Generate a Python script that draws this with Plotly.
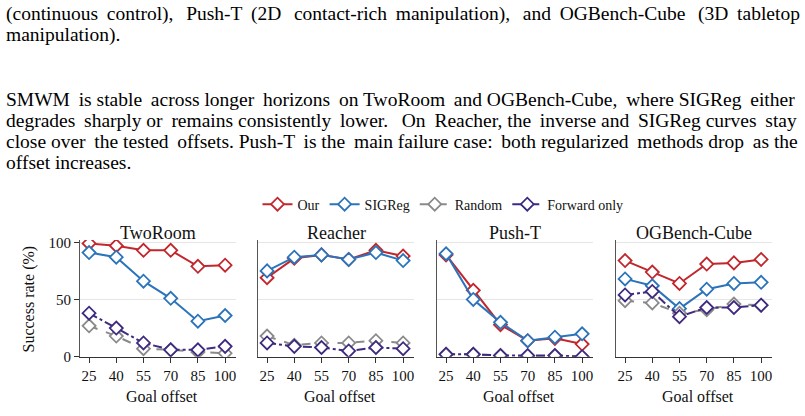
import plotly.graph_objects as go

W, H = 805, 416
FONT = "Liberation Serif"

offsets = [25, 40, 55, 70, 85, 100]
panels = ["TwoRoom", "Reacher", "Push-T", "OGBench-Cube"]
methods = ["Our", "SIGReg", "Random", "Forward only"]

our = {
    "TwoRoom": [99, 97, 93, 93, 79, 80],
    "Reacher": [69, 86, 89, 85, 93, 88],
    "Push-T": [89, 58, 28, 14, 16, 11],
    "OGBench-Cube": [84, 74, 64, 81, 82, 85],
}
sigreg = {
    "TwoRoom": [91, 87, 66, 51, 31, 36],
    "Reacher": [75, 87, 89, 85, 91, 84],
    "Push-T": [90, 50, 30, 14, 17, 20],
    "OGBench-Cube": [68, 62, 42, 59, 64, 65],
}
random_ = {
    "TwoRoom": [27, 18, 7, 6, 4, 3],
    "Reacher": [18, 10, 12, 12, 14, 12],
    "Push-T": [2, 2, 1, 0, 1, 0],
    "OGBench-Cube": [49, 47, 38, 41, 46, 45],
}
forward = {
    "TwoRoom": [38, 25, 12, 6, 6, 9],
    "Reacher": [12, 9, 8, 5, 8, 7],
    "Push-T": [2, 2, 1, 1, 1, 0],
    "OGBench-Cube": [54, 57, 35, 43, 43, 45],
}
series = [our, sigreg, random_, forward]
colors = ["#c1272d", "#2b74bb", "#8a8a8a", "#3f2a80"]
dashes = ["solid", "solid", "dash", "dashdot"]

para1 = [
    "(continuous control), Push-T (2D contact-rich manipulation), and OGBench-Cube (3D tabletop",
    "manipulation).",
]
para2 = [
    "SMWM is stable across longer horizons on TwoRoom and OGBench-Cube, where SIGReg either",
    "degrades sharply or remains consistently lower.  On Reacher, the inverse and SIGReg curves stay",
    "close over the tested offsets. Push-T is the main failure case: both regularized methods drop as the",
    "offset increases.",
]
# extra thin spaces used to imitate the justified paragraph lines
para1_extra = [13, 0]
para2_extra = [7, 8, 7, 0]


def justify(line, n_extra):
    words = line.split(" ")
    gaps = len(words) - 1
    if n_extra <= 0 or gaps <= 0:
        return line
    out = words[0]
    done = 0
    for g in range(1, gaps + 1):
        want = round(n_extra * g / gaps)
        k = want - done
        done = want
        out += " " + "\u2009" * k + words[g]
    return out


# pixel layout
px_dom = [(80, 236), (258, 414), (437, 593), (616, 772)]
y_top, y_bot = 242.6, 363


def xd(p):
    return p / W


def yd(p):
    return 1 - p / H


fig = go.Figure()
for i, pn in enumerate(panels):
    ax = "" if i == 0 else str(i + 1)
    for j, m in enumerate(methods):
        fig.add_trace(go.Scatter(
            x=offsets, y=series[j][pn], mode="lines+markers", name=m,
            legendgroup=m, showlegend=(i == 0),
            xaxis="x" + ax, yaxis="y" + ax,
            line=dict(color=colors[j], width=2, dash=dashes[j]),
            marker=dict(symbol="diamond", size=10, color="white",
                        line=dict(color=colors[j], width=1.8)),
        ))
    d0, d1 = px_dom[i]
    fig.layout["xaxis" + ax] = dict(
        domain=[xd(d0), xd(d1)], range=[20, 106], tickvals=offsets,
        ticks="outside", ticklen=5, tickcolor="#333", showline=True,
        linecolor="#333", linewidth=1, showgrid=False, zeroline=False,
        tickfont=dict(family=FONT, size=15, color="#111"),
        anchor="y" + ax, fixedrange=True,
    )
    fig.layout["yaxis" + ax] = dict(
        domain=[yd(y_bot), yd(y_top)], range=[0, 102], tickvals=[0, 50, 100],
        showticklabels=(i == 0), ticks="outside" if i == 0 else "",
        ticklen=5, tickcolor="#333", showline=True, linecolor="#555",
        linewidth=1, showgrid=True, gridcolor="#e6e6e6", gridwidth=1,
        zeroline=False, tickfont=dict(family=FONT, size=15, color="#111"),
        anchor="x" + ax, fixedrange=True,
    )
    fig.add_annotation(text=pn, x=xd((d0 + d1) / 2), y=yd(235), xref="paper",
                       yref="paper", showarrow=False, xanchor="center",
                       yanchor="middle", font=dict(family=FONT, size=18, color="#111"))
    fig.add_annotation(text="Goal offset", x=xd((d0 + d1) / 2 + 4), y=yd(404),
                       xref="paper", yref="paper", showarrow=False,
                       xanchor="center", yanchor="middle",
                       font=dict(family=FONT, size=16, color="#111"))

fig.add_annotation(text="Success rate (%)", x=xd(28), y=yd(304), xref="paper",
                   yref="paper", showarrow=False, textangle=-90,
                   xanchor="center", yanchor="middle",
                   font=dict(family=FONT, size=16, color="#111"))

TXT = 19.5
for k, line in enumerate(para1):
    fig.add_annotation(text=justify(line, para1_extra[k]), x=xd(4),
                       y=yd(9 + 21.7 * k), xref="paper",
                       yref="paper", showarrow=False, xanchor="left",
                       yanchor="middle", font=dict(family=FONT, size=TXT, color="#000"))
for k, line in enumerate(para2):
    fig.add_annotation(text=justify(line, para2_extra[k]), x=xd(4),
                       y=yd(97.5 + 21.7 * k), xref="paper",
                       yref="paper", showarrow=False, xanchor="left",
                       yanchor="middle", font=dict(family=FONT, size=TXT, color="#000"))

fig.update_layout(
    width=W, height=H, margin=dict(l=0, r=0, t=0, b=0),
    paper_bgcolor="white", plot_bgcolor="white",
    legend=dict(orientation="h", x=xd(443), y=yd(206), xanchor="center",
                yanchor="middle", font=dict(family=FONT, size=14, color="#111"),
                itemwidth=30, tracegroupgap=0, bgcolor="rgba(0,0,0,0)"),
)

fig.write_html("out.html")
